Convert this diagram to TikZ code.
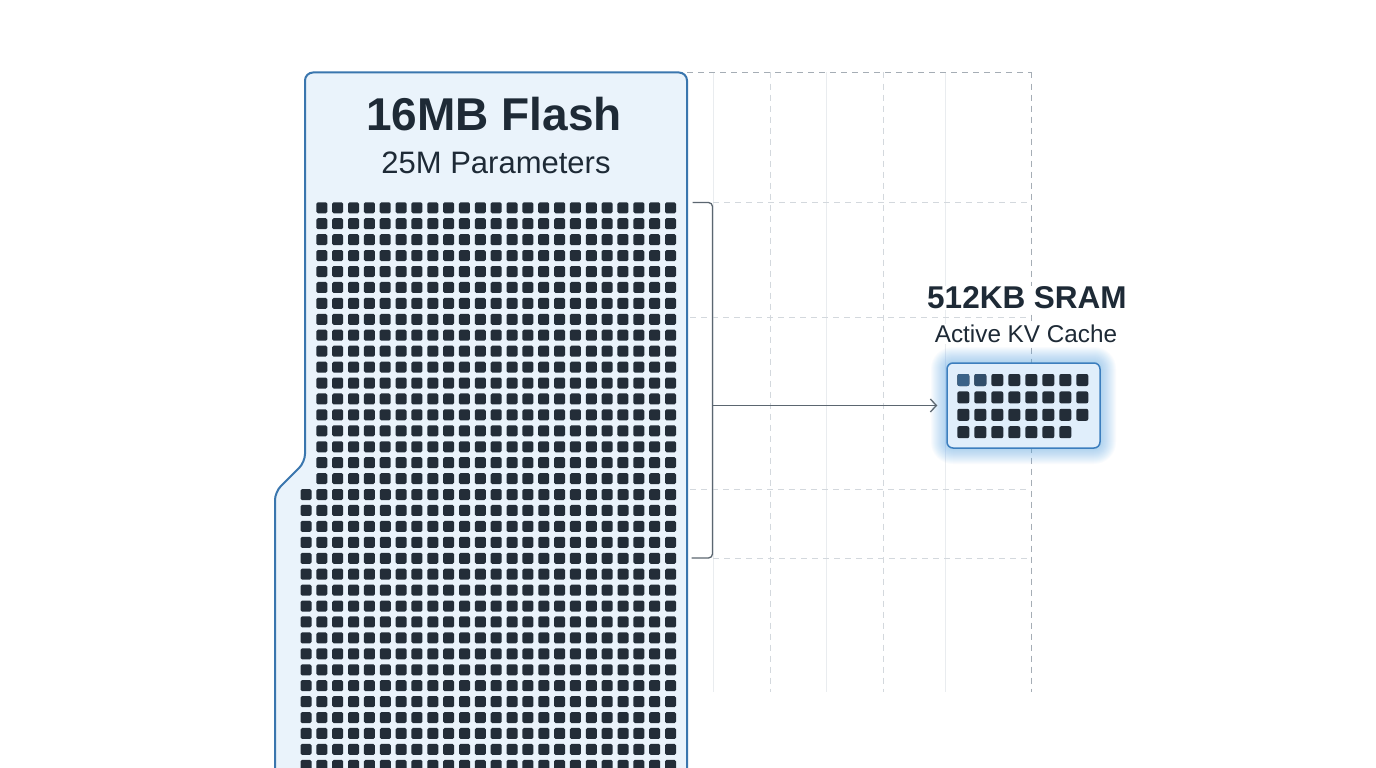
\documentclass[tikz,border=0pt]{standalone}
\usepackage{fontspec}
\setmainfont{Liberation Sans}
\usetikzlibrary{arrows.meta}
\definecolor{ink}{HTML}{1E2A36}
\definecolor{cell}{HTML}{232D38}
\definecolor{flashfill}{HTML}{EAF3FB}
\definecolor{flashedge}{HTML}{3A76AE}
\definecolor{conncol}{HTML}{5B6670}
\definecolor{gridsolid}{HTML}{E9ECEF}
\definecolor{griddash}{HTML}{D3D8DD}
\definecolor{griddark}{HTML}{A5ADB5}
\definecolor{sramedge}{HTML}{3C7EBE}
\definecolor{sramfill}{HTML}{E0EEFB}
\definecolor{glow}{HTML}{5AA8EE}
\definecolor{hot}{HTML}{3A6288}
\definecolor{warm}{HTML}{314E6A}
\tikzset{
  gsolid/.style={draw=gridsolid, line width=1pt},
  gdash/.style={draw=griddash, line width=1pt, dash pattern=on 6pt off 5pt},
  gdark/.style={draw=griddark, line width=1pt, dash pattern=on 6pt off 5pt},
  cellbox/.style={fill=cell, rounded corners=1.5pt},
  sramcell/.style={fill=cell, rounded corners=2pt},
  lbl/.style={text=ink, fill=white, inner sep=1pt},
  connline/.style={draw=conncol, line width=1.3pt},
}
\begin{document}
\begin{tikzpicture}[x=1pt,y=-1pt]
\useasboundingbox (0,0) rectangle (1376,768);
\fill[white] (0,0) rectangle (1376,768);
\clip (0,0) rectangle (1376,768);

% background grid
\foreach \x in {713,826,945} \draw[gsolid] (\x,72.5) -- (\x,692);
\foreach \x in {770,883} \draw[gdash] (\x,72.5) -- (\x,692);
\draw[gdark] (1031,72.5) -- (1031,692);
\draw[gdark] (687,72.5) -- (1031,72.5);
\draw[gdash] (713,202.5) -- (1031,202.5);
\draw[gdash] (690,317.5) -- (1031,317.5);
\draw[gdash] (690,489) -- (1031,489);
\draw[gdash] (713,558) -- (1031,558);

% flash box
\filldraw[fill=flashfill, draw=flashedge, line width=2pt, rounded corners=8pt]
  (275,800) -- (275,492) -- (305,462) -- (305,72.5) -- (687,72.5) -- (687,800) -- cycle;
\node[lbl, fill=none, font=\bfseries\fontsize{46}{46}\selectfont] (flashtitle) at (494,114.5) {16MB Flash};
\node[lbl, fill=none, font=\fontsize{31}{31}\selectfont] (flashsub) at (496,162.5) {25M Parameters};

\foreach \i in {0,...,17}{
  \foreach \j in {0,...,22}{
    \fill[cellbox] ({316.3+15.85*\j},{202.3+15.93*\i}) rectangle ++(11,11);
  }
}
\foreach \i in {18,...,35}{
  \foreach \j in {0,...,23}{
    \fill[cellbox] ({300.5+15.85*\j},{202.3+15.93*\i}) rectangle ++(11,11);
  }
}

% SRAM glow and box
\foreach \k in {1,...,16}
  \fill[glow, opacity=0.035, rounded corners={6+\k}] ({947-\k},{363-\k}) rectangle ({1100+\k},{448+\k});
\node[draw=sramedge, fill=sramfill, line width=1.5pt, rounded corners=6pt,
      minimum width=153pt, minimum height=85pt, inner sep=0pt] (sram) at (1023.5,405.5) {};
\foreach \r in {0,1,2}{
  \foreach \j in {0,...,7}{
    \fill[sramcell] ({957.3+17*\j},{374+17.4*\r}) rectangle ++(12,12);
  }
}
\foreach \j in {0,...,6}
  \fill[sramcell] ({957.3+17*\j},{374+17.4*3}) rectangle ++(12,12);
\fill[hot, rounded corners=2pt] (957.3,374) rectangle ++(12,12);
\fill[warm, rounded corners=2pt] (974.3,374) rectangle ++(12,12);

\node[lbl, font=\bfseries\fontsize{31.5}{31.5}\selectfont] (sramtitle) at (1027,298) {512KB SRAM};
\node[lbl, font=\fontsize{24.3}{24.3}\selectfont] (sramsub) at (1026,334) {Active KV Cache};

% bracket and arrow
\coordinate (btop) at (692.5,202.5);
\coordinate (btopr) at (712.5,202.5);
\coordinate (bbotr) at (712.5,558);
\coordinate (bbot) at (691.5,558);
\coordinate (bmid) at (712.5,405.5);
\draw[connline, rounded corners=4pt] (btop) -- (btopr) -- (bbotr) -- (bbot);
\draw[connline, -{Straight Barb[length=6pt,width=13pt]}, shorten >=9pt] (bmid) -- (sram.west);
\end{tikzpicture}
\end{document}
